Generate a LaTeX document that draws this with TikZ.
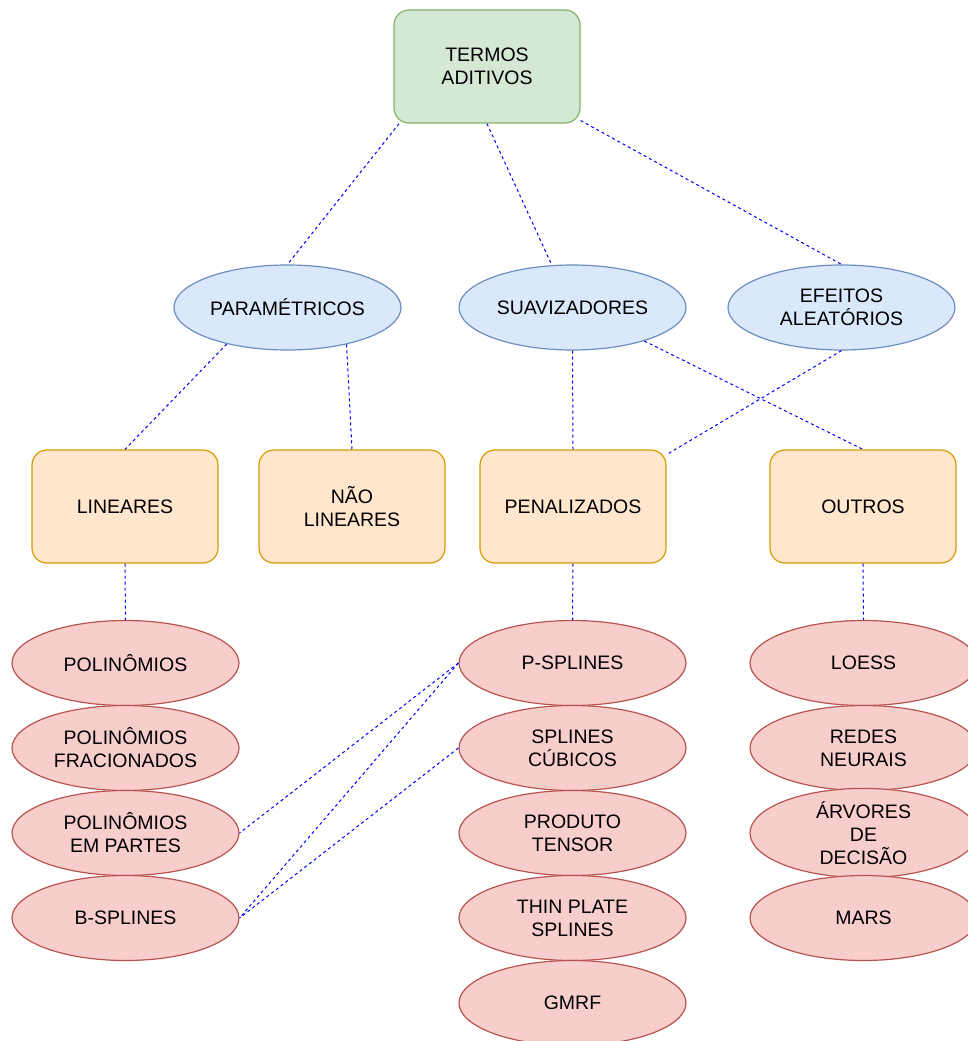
\documentclass[tikz,border=0pt]{standalone}
\usepackage{fontspec}
\setmainfont{Liberation Sans}
\usetikzlibrary{shapes.geometric}
\definecolor{gfill}{HTML}{D5E8D4}\definecolor{gdraw}{HTML}{82B366}
\definecolor{bfill}{HTML}{DAE8FC}\definecolor{bdraw}{HTML}{6C8EBF}
\definecolor{ofill}{HTML}{FFE6CC}\definecolor{odraw}{HTML}{D79B00}
\definecolor{rfill}{HTML}{F8CECC}\definecolor{rdraw}{HTML}{B85450}
\definecolor{lnk}{HTML}{0000FF}
\tikzset{
  base/.style={align=center, inner sep=0pt, line width=1.2pt, font=\fontsize{19.5}{23}\selectfont},
  rootbox/.style={base, rectangle, rounded corners=15pt, minimum width=186pt, minimum height=113pt, fill=gfill, draw=gdraw},
  catell/.style={base, ellipse, minimum width=227pt, minimum height=85pt, fill=bfill, draw=bdraw},
  subbox/.style={base, rectangle, rounded corners=15pt, minimum width=186pt, minimum height=113pt, fill=ofill, draw=odraw},
  leaf/.style={base, ellipse, minimum width=227pt, minimum height=85pt, fill=rfill, draw=rdraw},
  link/.style={draw=lnk, line width=1pt, dash pattern=on 3pt off 3pt}
}
\begin{document}
\begin{tikzpicture}[x=1pt,y=-1pt]
\useasboundingbox (0,0) rectangle (968,1041);
\node[rootbox] (t) at (487,66.5) {TERMOS\\ADITIVOS};
\node[catell] (par) at (287.5,307.5) {PARAMÉTRICOS};
\node[catell] (suav) at (572.5,307.5) {SUAVIZADORES};
\node[catell] (efe) at (841.5,307.5) {EFEITOS\\ALEATÓRIOS};
\node[subbox] (lin) at (125,506.5) {LINEARES};
\node[subbox] (nlin) at (352,506.5) {NÃO\\LINEARES};
\node[subbox] (pen) at (573,506.5) {PENALIZADOS};
\node[subbox] (out) at (863,506.5) {OUTROS};
\node[leaf] (pol) at (125.5,663) {POLINÔMIOS};
\node[leaf] (polf) at (125.5,748) {POLINÔMIOS\\FRACIONADOS};
\node[leaf] (pole) at (125.5,833) {POLINÔMIOS\\EM PARTES};
\node[leaf] (bspl) at (125.5,918) {B-SPLINES};
\node[leaf] (pspl) at (572.5,663) {P-SPLINES};
\node[leaf] (scub) at (572.5,748) {SPLINES\\CÚBICOS};
\node[leaf] (prod) at (572.5,833) {PRODUTO\\TENSOR};
\node[leaf] (thin) at (572.5,918) {THIN PLATE\\SPLINES};
\node[leaf] (gmrf) at (572.5,1003) {GMRF};
\node[leaf] (loess) at (863.5,663) {LOESS};
\node[leaf] (redes) at (863.5,748) {REDES\\NEURAIS};
\node[leaf] (arv) at (863.5,833) {ÁRVORES\\DE\\DECISÃO};
\node[leaf] (mars) at (863.5,918) {MARS};
\draw[link] (t.213) -- (par.north);
\draw[link] (t.south) -- (suav.116);
\draw[link] (t.330) -- (efe.north);
\draw[link] (par.211) -- (lin.north);
\draw[link] (par.328) -- (nlin.north);
\draw[link] (suav.south) -- (pen.north);
\draw[link] (suav.335) -- (out.north);
\draw[link] (efe.south) -- (pen.29);
\draw[link] (lin.south) -- (pol.north);
\draw[link] (pen.south) -- (pspl.north);
\draw[link] (out.south) -- (loess.north);
\draw[link] (pspl.west) -- (pole.east);
\draw[link] (pspl.west) -- (bspl.east);
\draw[link] (scub.west) -- (bspl.east);
\end{tikzpicture}
\end{document}
